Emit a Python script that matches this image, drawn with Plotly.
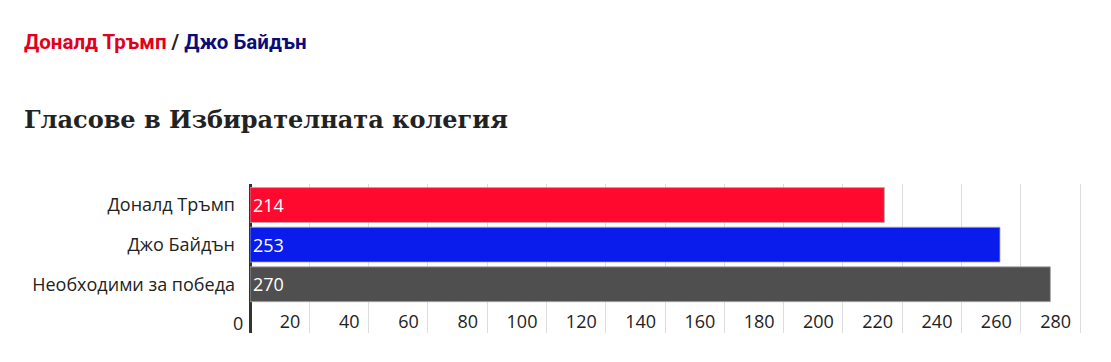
import plotly.graph_objects as go

categories = ["Доналд Тръмп", "Джо Байдън", "Необходими за победа"]
values = [214, 253, 270]
bar_colors = ["#FF0A2E", "#0A1CEB", "#4F4F4F"]
tick_vals = list(range(0, 281, 20))
tick_text = [str(v) for v in tick_vals]

head_left = "Доналд Тръмп"
head_right = "Джо Байдън"
title_text = "Гласове в Избирателната колегия"

fig = go.Figure(
    go.Bar(
        x=values,
        y=categories,
        orientation="h",
        marker=dict(color=bar_colors, line=dict(color="rgba(170,170,170,0.8)", width=1)),
        text=[str(v) for v in values],
        textposition="inside",
        insidetextanchor="start",
        insidetextfont=dict(color="white", size=18, family="Open Sans"),
        cliponaxis=False,
        hoverinfo="skip",
    )
)

# the page body has an 8px margin, so the figure is laid out 8px smaller
fig.update_layout(
    width=1103,
    height=354,
    margin=dict(l=242, r=28, t=176, b=29, autoexpand=False),
    plot_bgcolor="white",
    paper_bgcolor="white",
    bargap=0.12,
    showlegend=False,
    font=dict(family="Open Sans", color="#222222"),
)

fig.update_xaxes(
    range=[0, 281],
    tickvals=tick_vals[1:],
    ticktext=tick_text[1:],
    showgrid=True,
    gridcolor="#DDDDDD",
    gridwidth=1,
    zeroline=True,
    zerolinecolor="#333333",
    zerolinewidth=3,
    ticks="",
    ticklabelposition="inside left",
    ticklabelshift=-9,
    ticklabelstandoff=-5,
    tickfont=dict(size=18, color="#222222"),
    showline=False,
    automargin=False,
)

fig.update_yaxes(
    type="category",
    categoryorder="array",
    categoryarray=categories,
    range=[3.23, -0.53],
    showgrid=False,
    zeroline=False,
    ticks="",
    ticklabelstandoff=14,
    tickfont=dict(size=18, color="#222222"),
    automargin=False,
)

# the "0" tick label sits left of the axis line, outside the plot area
fig.add_annotation(
    x=tick_vals[0], xref="x", y=0, yref="paper",
    xanchor="right", yanchor="bottom", xshift=-5, yshift=-4,
    text=tick_text[0], showarrow=False,
    font=dict(size=18, color="#222222", family="Open Sans"),
)

fig.add_annotation(
    xref="paper", yref="paper", x=-0.274, y=1.953,
    xanchor="left", yanchor="middle", showarrow=False,
    text=(f"<span style='color:#E3001B'>{head_left}</span>"
          f"<span style='color:#222222'> / </span>"
          f"<span style='color:#0B0B7A'>{head_right}</span>"),
    font=dict(family="Roboto", size=20.5, weight="bold"),
)
fig.add_annotation(
    xref="paper", yref="paper", x=-0.274, y=1.43,
    xanchor="left", yanchor="middle", showarrow=False,
    text=title_text,
    font=dict(family="DejaVu Serif", size=24, weight="bold", color="#222222"),
)

fig.write_html("out.html")
